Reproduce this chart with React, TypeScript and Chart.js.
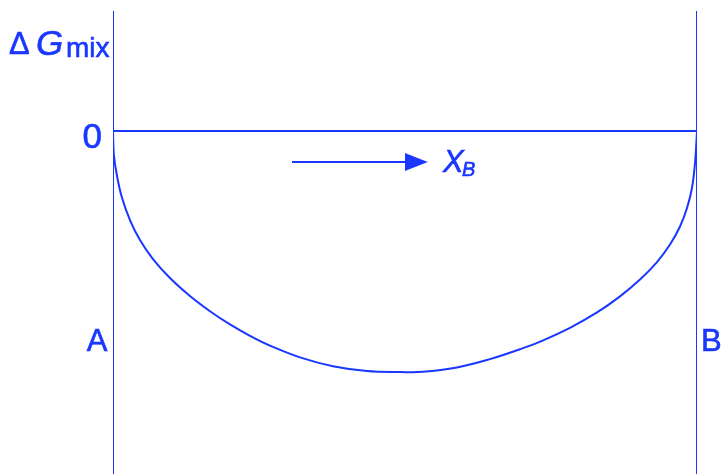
import React, { useEffect, useRef } from "react";
import { Chart, registerables } from "chart.js";

Chart.register(...registerables);

// Mole fraction of B (0 = pure A, 1 = pure B)
const curveX = [0, 0.0005, 0.0017, 0.0063, 0.0149, 0.0291, 0.0462, 0.0685, 0.0976, 0.1318, 0.1661, 0.2003, 0.2346, 0.2688, 0.3202, 0.3767, 0.4349, 0.4914, 0.5308, 0.589, 0.6455, 0.6969, 0.7312, 0.7825, 0.8288, 0.8682, 0.9024, 0.9315, 0.9538, 0.9709, 0.9829, 0.9914, 0.9966, 0.9986, 1];
// ΔG_mix (arbitrary units, minimum ≈ -1)
const curveY = [0, -0.0498, -0.1037, -0.1784, -0.2726, -0.3693, -0.4523, -0.5311, -0.61, -0.6846, -0.7477, -0.8025, -0.8498, -0.8905, -0.939, -0.9759, -0.9959, -1.0, -0.9992, -0.9809, -0.9465, -0.9054, -0.8739, -0.8166, -0.7527, -0.6859, -0.6162, -0.5436, -0.471, -0.3963, -0.3195, -0.2365, -0.1328, -0.0622, 0];

const zeroLineX = [0, 1];
const zeroLineY = [0, 0];
const boundaryX = [0, 1];
const yRange = [-1.423, 0.498];
const arrowX = [0.3065, 0.5];
const arrowTipX = 0.539;
const arrowY = -0.1286;

const BLUE = "rgb(25,55,255)";
const FONT = '"Liberation Sans", Arial, Helvetica, sans-serif';

const labelPlugin = {
  id: "labels",
  afterDatasetsDraw(chart: any) {
    const ctx = chart.ctx;
    const xs = chart.scales.x;
    const ys = chart.scales.y;
    ctx.save();
    ctx.fillStyle = BLUE;
    ctx.strokeStyle = BLUE;
    ctx.lineWidth = 0.6;
    // arrowhead
    const bx = xs.getPixelForValue(arrowX[1]);
    const tx = xs.getPixelForValue(arrowTipX);
    const ay = ys.getPixelForValue(arrowY);
    ctx.beginPath();
    ctx.moveTo(bx, ay - 9);
    ctx.lineTo(tx, ay);
    ctx.lineTo(bx, ay + 9);
    ctx.closePath();
    ctx.fill();

    const txt = (s: string, x: number, y: number) => {
      ctx.fillText(s, x, y);
      ctx.strokeText(s, x, y);
    };

    ctx.textBaseline = "alphabetic";
    ctx.textAlign = "left";
    ctx.font = `31px ${FONT}`;
    txt("Δ", 9, 54);
    ctx.font = `italic 35px ${FONT}`;
    txt("G", 36, 55);
    ctx.font = `28px ${FONT}`;
    txt("mix", 66, 57);

    ctx.font = `35px ${FONT}`;
    ctx.textAlign = "right";
    txt("0", 102, ys.getPixelForValue(0) + 17);

    ctx.textAlign = "center";
    ctx.font = `31px ${FONT}`;
    txt("A", 97, 351);
    ctx.textAlign = "left";
    txt("B", 701, 351);

    ctx.font = `italic 31px ${FONT}`;
    txt("X", 443, 172);
    ctx.font = `italic 20px ${FONT}`;
    txt("B", 462, 176);
    ctx.restore();
  },
};

export default function App() {
  const ref = useRef<HTMLCanvasElement>(null);
  useEffect(() => {
    if (!ref.current) return;
    const line = (xs: number[], ys: number[], extra: any = {}) => ({
      data: xs.map((x, i) => ({ x, y: ys[i] })),
      borderColor: BLUE,
      borderWidth: 2,
      pointRadius: 0,
      fill: false,
      tension: 0,
      ...extra,
    });
    const chart = new Chart(ref.current, {
      type: "line",
      data: {
        datasets: [
          line(curveX, curveY, { tension: 0.4 }),
          line(zeroLineX, zeroLineY),
          line([boundaryX[0], boundaryX[0]], yRange),
          line([boundaryX[1], boundaryX[1]], yRange),
          line(arrowX, [arrowY, arrowY]),
        ],
      },
      options: {
        animation: false,
        responsive: false,
        parsing: false as any,
        layout: { padding: { left: 113, right: 25, top: 11, bottom: 0 } },
        plugins: { legend: { display: false }, tooltip: { enabled: false } },
        scales: {
          x: { type: "linear", min: 0, max: 1, display: false },
          y: { type: "linear", min: yRange[0], max: yRange[1], display: false },
        },
      },
      plugins: [labelPlugin],
    });
    return () => chart.destroy();
  }, []);
  return (
    <div style={{ position: "fixed", left: 0, top: 0, width: 722, height: 474, background: "#fff" }}>
      <canvas ref={ref} width={722} height={474} style={{ display: "block" }} />
    </div>
  );
}
